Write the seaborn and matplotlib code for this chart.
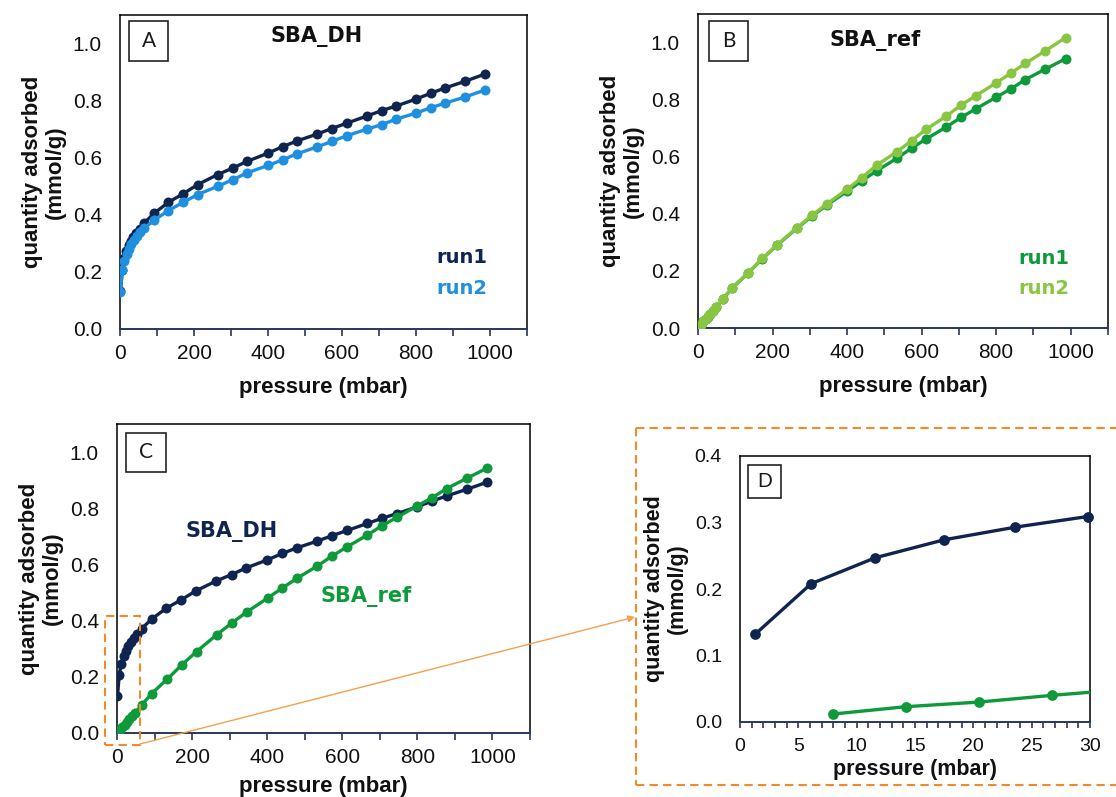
import matplotlib
matplotlib.use("Agg")
import matplotlib.pyplot as plt
import seaborn as sns
from matplotlib.patches import Rectangle
from matplotlib.ticker import MultipleLocator, FormatStrFormatter

# ---------------- data ----------------
dh_run1_p = [1.3, 6.1, 11.6, 17.5, 23.6, 29.8, 36, 44, 54, 66, 92, 131, 171, 210, 264, 305,
             343, 400, 440, 479, 533, 572, 613, 667, 707, 746, 799, 840, 878, 933, 986]
dh_run1_q = [0.132, 0.208, 0.247, 0.274, 0.293, 0.309, 0.323, 0.337, 0.352, 0.372, 0.405,
             0.444, 0.474, 0.506, 0.541, 0.564, 0.587, 0.616, 0.639, 0.659, 0.683, 0.702,
             0.721, 0.746, 0.765, 0.781, 0.805, 0.826, 0.844, 0.868, 0.893]

dh_run2_p = [1.3, 6.0, 12.0, 18.0, 24.0, 30.0, 37, 45, 54, 66, 92, 131, 171, 210, 264, 305,
             343, 400, 440, 479, 533, 572, 613, 667, 707, 746, 799, 840, 878, 933, 986]
dh_run2_q = [0.130, 0.205, 0.238, 0.262, 0.281, 0.297, 0.311, 0.325, 0.339, 0.354, 0.381,
             0.415, 0.444, 0.471, 0.500, 0.523, 0.547, 0.573, 0.593, 0.614, 0.638, 0.657,
             0.677, 0.700, 0.716, 0.735, 0.756, 0.775, 0.791, 0.813, 0.837]

ref_run1_p = [8.0, 14.2, 20.5, 26.7, 33, 40, 48, 66, 92, 134, 173, 212, 266, 306, 347, 401,
              440, 480, 533, 573, 612, 666, 706, 746, 799, 840, 878, 932, 986]
ref_run1_q = [0.012, 0.023, 0.030, 0.040, 0.049, 0.060, 0.072, 0.100, 0.140, 0.192, 0.243,
              0.290, 0.350, 0.392, 0.432, 0.480, 0.516, 0.551, 0.594, 0.630, 0.662, 0.704,
              0.738, 0.768, 0.808, 0.838, 0.870, 0.907, 0.943]

ref_run2_p = [8.0, 14.2, 20.5, 26.7, 33, 40, 48, 66, 92, 134, 173, 212, 266, 306, 347, 401,
              440, 480, 533, 573, 612, 666, 706, 746, 799, 840, 878, 932, 986]
ref_run2_q = [0.012, 0.023, 0.031, 0.041, 0.050, 0.061, 0.073, 0.101, 0.141, 0.193, 0.244,
              0.291, 0.352, 0.395, 0.436, 0.487, 0.527, 0.571, 0.617, 0.656, 0.696, 0.742,
              0.781, 0.814, 0.858, 0.893, 0.927, 0.971, 1.017]

panel_letters = ["A", "B", "C", "D"]
xlabel = "pressure (mbar)"
ylabel = "quantity adsorbed\n(mmol/g)"

NAVY = "#0f2550"
LBLUE = "#1f8fe0"
GREEN = "#0e9a3a"
LGREEN = "#88c540"
ORANGE = "#f28a2a"
AXBLUE = "#27385a"
TXT = "#111111"

sns.set_style("white")
plt.rcParams["font.family"] = ["Liberation Sans", "DejaVu Sans"]

W, H = 1116, 797
fig = plt.figure(figsize=(W / 100, H / 100), dpi=100)


def px_axes(l, t, r, b):
    return fig.add_axes([l / W, 1 - b / H, (r - l) / W, (b - t) / H])


def style(ax, xmax, xmaj, xmin, ymax, ymaj, yfmt, tick_fs, lab_fs, ypad, xtpad,
          xpad_lab, ylabpad):
    ax.set_xlim(0, xmax)
    ax.set_ylim(0, ymax)
    ax.xaxis.set_major_locator(MultipleLocator(xmaj))
    ax.xaxis.set_minor_locator(MultipleLocator(xmin))
    ax.yaxis.set_major_locator(MultipleLocator(ymaj))
    ax.yaxis.set_major_formatter(FormatStrFormatter(yfmt))
    for s in ax.spines.values():
        s.set_color("black")
        s.set_linewidth(1.1)
        s.set_visible(True)
    ax.spines["bottom"].set_color(AXBLUE)
    ax.spines["bottom"].set_linewidth(1.4)
    ax.tick_params(axis="x", which="both", direction="out", length=5, width=1.2,
                   color=AXBLUE, labelsize=tick_fs, pad=xtpad, bottom=True,
                   labelcolor=TXT)
    ax.tick_params(axis="y", which="both", length=0, labelsize=tick_fs, pad=ypad, left=True,
                   labelcolor=TXT)
    ax.set_xlabel(xlabel, fontsize=lab_fs, fontweight="bold", labelpad=xpad_lab, color=TXT)
    ax.set_ylabel(ylabel, fontsize=lab_fs, fontweight="bold", labelpad=ylabpad,
                  linespacing=1.1, color=TXT)
    ax.grid(False)


def letter_box(ax, x0, y0, x1, y1, letter, fs=15):
    ax.add_patch(Rectangle((x0, y0), x1 - x0, y1 - y0, transform=ax.transAxes,
                           fill=False, edgecolor="#222222", linewidth=1.2, zorder=5))
    ax.text((x0 + x1) / 2, (y0 + y1) / 2, letter, transform=ax.transAxes, ha="center",
            va="center", fontsize=fs, family=["Lato", "DejaVu Sans"], fontweight="normal",
            color="#1a1a1a", zorder=6)


def series(ax, p, q, color, ms=7.2, lw=2.4):
    sns.lineplot(x=p, y=q, ax=ax, color=color, linewidth=lw, marker="o", markersize=ms,
                 markeredgewidth=0, sort=False, estimator=None, zorder=3)


TFONT = ["DejaVu Sans"]

# ---------------- Panel A ----------------
axA = px_axes(120, 15, 527, 329)
series(axA, dh_run1_p, dh_run1_q, NAVY)
series(axA, dh_run2_p, dh_run2_q, LBLUE)
style(axA, 1100, 200, 100, 1.1, 0.2, "%.1f", 15, 16, 13, 6, 10, 5)
letter_box(axA, 0.023, 0.853, 0.119, 0.981, panel_letters[0])
axA.text(0.482, 0.933, "SBA_DH", transform=axA.transAxes, ha="center", va="center",
         fontsize=15, fontweight="bold", family=TFONT, color=TXT)
axA.text(0.902, 0.227, "run1", transform=axA.transAxes, ha="right", va="center",
         fontsize=14, fontweight="bold", family=TFONT, color=NAVY)
axA.text(0.902, 0.128, "run2", transform=axA.transAxes, ha="right", va="center",
         fontsize=14, fontweight="bold", family=TFONT, color=LBLUE)

# ---------------- Panel B ----------------
axB = px_axes(698, 14, 1108, 328)
series(axB, ref_run1_p, ref_run1_q, GREEN)
series(axB, ref_run2_p, ref_run2_q, LGREEN)
style(axB, 1100, 200, 100, 1.1, 0.2, "%.1f", 15, 16, 13, 6, 10, 5)
letter_box(axB, 0.027, 0.85, 0.122, 0.978, panel_letters[1])
axB.text(0.432, 0.917, "SBA_ref", transform=axB.transAxes, ha="center", va="center",
         fontsize=15, fontweight="bold", family=TFONT, color=TXT)
axB.text(0.907, 0.22, "run1", transform=axB.transAxes, ha="right", va="center",
         fontsize=14, fontweight="bold", family=TFONT, color=GREEN)
axB.text(0.907, 0.125, "run2", transform=axB.transAxes, ha="right", va="center",
         fontsize=14, fontweight="bold", family=TFONT, color=LGREEN)

# ---------------- Panel C ----------------
axC = px_axes(117, 424, 530, 733)
series(axC, dh_run1_p, dh_run1_q, NAVY)
series(axC, ref_run1_p, ref_run1_q, GREEN)
style(axC, 1100, 200, 100, 1.1, 0.2, "%.1f", 15, 16, 13, 6, 6, 5)
letter_box(axC, 0.0225, 0.845, 0.118, 0.972, panel_letters[2])
axC.text(0.277, 0.653, "SBA_DH", transform=axC.transAxes, ha="center", va="center",
         fontsize=15, fontweight="bold", family=TFONT, color=NAVY)
axC.text(0.603, 0.443, "SBA_ref", transform=axC.transAxes, ha="center", va="center",
         fontsize=15, fontweight="bold", family=TFONT, color=GREEN)
# dashed zoom region around the low-pressure data
axC.add_patch(Rectangle((-33, -0.042), 95, 0.457, fill=False, edgecolor=ORANGE,
                        linestyle=(0, (4, 2.5)), linewidth=1.5, clip_on=False, zorder=6))

# ---------------- Panel D ----------------
axD = px_axes(740, 456, 1090, 722)
d_dh_p = [p for p in dh_run1_p if p <= 34]
d_dh_q = dh_run1_q[:len(d_dh_p)]
d_ref_p = [p for p in ref_run1_p if p <= 34]
d_ref_q = ref_run1_q[:len(d_ref_p)]
sns.lineplot(x=d_dh_p, y=d_dh_q, ax=axD, color=NAVY, linewidth=2.4, sort=False,
             estimator=None, zorder=3)
sns.lineplot(x=d_ref_p, y=d_ref_q, ax=axD, color=GREEN, linewidth=2.4, sort=False,
             estimator=None, zorder=3)
in_dh = [(p, q) for p, q in zip(d_dh_p, d_dh_q) if p <= 30]
in_ref = [(p, q) for p, q in zip(d_ref_p, d_ref_q) if p <= 30]
sns.scatterplot(x=[a for a, _ in in_dh], y=[b for _, b in in_dh], ax=axD, color=NAVY,
                s=60, linewidth=0, zorder=4, clip_on=False)
sns.scatterplot(x=[a for a, _ in in_ref], y=[b for _, b in in_ref], ax=axD, color=GREEN,
                s=60, linewidth=0, zorder=4, clip_on=False)
style(axD, 30, 5, 1, 0.4, 0.1, "%.1f", 14, 15.5, 13, 7, 3, 5)
axD.tick_params(axis="x", which="both", length=4.5, direction="out")
letter_box(axD, 0.022, 0.841, 0.117, 0.966, panel_letters[3], fs=14)

# ---------------- overlay (zoom indication) ----------------
ov = fig.add_axes([0, 0, 1, 1], zorder=10)
ov.set_xlim(0, W)
ov.set_ylim(H, 0)
ov.axis("off")
ov.patch.set_alpha(0)
dash = dict(color=ORANGE, linestyle=(0, (4, 2.5)), linewidth=1.5)
ov.plot([636, W + 5], [428, 428], **dash)
ov.plot([636, W + 5], [785, 785], **dash)
ov.plot([636, 636], [428, 785], **dash)
ov.annotate("", xy=(635, 617), xytext=(140, 744),
            arrowprops=dict(arrowstyle="-|>", color="#f5a04a", lw=1.0,
                            mutation_scale=10, shrinkA=0, shrinkB=0))

fig.savefig("out.png", dpi=100)
